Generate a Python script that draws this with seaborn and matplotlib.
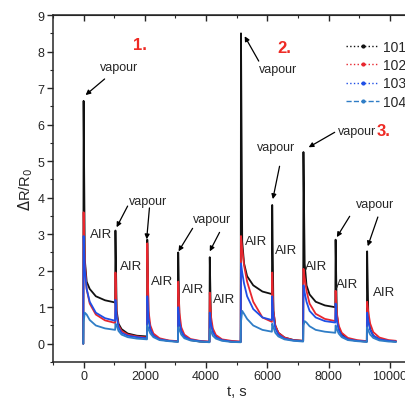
import numpy as np
import pandas as pd
import seaborn as sns
import matplotlib.pyplot as plt
from matplotlib.lines import Line2D
from matplotlib.ticker import MultipleLocator

# %%
# time, s (spike at start of each vapour pulse, then recovery in air)
t = [-10,
     0, 40, 100, 200, 400, 700, 1030,
     1040, 1080, 1140, 1240, 1440, 1740, 2070,
     2080, 2120, 2180, 2280, 2480, 2780, 3080,
     3090, 3130, 3190, 3290, 3490, 3790, 4110,
     4120, 4160, 4220, 4320, 4520, 4820, 5130,
     5140, 5180, 5240, 5340, 5540, 5840, 6150,
     6160, 6200, 6260, 6360, 6560, 6860, 7170,
     7180, 7220, 7280, 7380, 7580, 7880, 8220,
     8230, 8270, 8330, 8430, 8630, 8930, 9250,
     9260, 9300, 9360, 9460, 9660, 9960, 10200]

s101 = [0,
        6.65, 2.3, 1.7, 1.5, 1.3, 1.19, 1.13,
        3.1, 0.9, 0.55, 0.4, 0.28, 0.22, 0.2,
        2.85, 0.7, 0.4, 0.22, 0.12, 0.08, 0.06,
        2.5, 0.6, 0.35, 0.2, 0.1, 0.06, 0.05,
        2.37, 0.6, 0.35, 0.2, 0.1, 0.06, 0.05,
        8.5, 2.8, 2.2, 1.85, 1.6, 1.43, 1.36,
        3.8, 0.9, 0.5, 0.3, 0.17, 0.1, 0.08,
        5.25, 2.2, 1.6, 1.35, 1.15, 1.05, 1.0,
        2.85, 0.8, 0.45, 0.25, 0.13, 0.08, 0.06,
        2.53, 0.7, 0.4, 0.22, 0.12, 0.08, 0.06]

s102 = [0,
        3.6, 2.2, 1.5, 1.1, 0.8, 0.64, 0.57,
        1.95, 0.8, 0.5, 0.35, 0.25, 0.2, 0.17,
        2.75, 0.9, 0.5, 0.28, 0.15, 0.09, 0.07,
        1.7, 0.85, 0.45, 0.25, 0.13, 0.08, 0.06,
        1.4, 0.75, 0.42, 0.24, 0.12, 0.08, 0.06,
        2.95, 2.6, 2.15, 1.7, 1.15, 0.72, 0.6,
        1.95, 0.9, 0.5, 0.3, 0.17, 0.1, 0.08,
        2.05, 1.8, 1.45, 1.1, 0.82, 0.68, 0.62,
        1.45, 0.85, 0.5, 0.3, 0.16, 0.1, 0.07,
        1.15, 0.85, 0.55, 0.32, 0.17, 0.1, 0.08]

s103 = [0,
        2.95, 2.0, 1.5, 1.15, 0.85, 0.7, 0.63,
        1.2, 0.75, 0.45, 0.3, 0.22, 0.18, 0.15,
        1.3, 0.7, 0.4, 0.22, 0.12, 0.08, 0.06,
        1.0, 0.6, 0.35, 0.2, 0.11, 0.07, 0.05,
        0.85, 0.55, 0.32, 0.18, 0.1, 0.06, 0.05,
        2.2, 1.95, 1.65, 1.3, 0.95, 0.72, 0.65,
        1.3, 0.75, 0.42, 0.25, 0.14, 0.09, 0.07,
        1.6, 1.4, 1.15, 0.9, 0.72, 0.62, 0.58,
        1.1, 0.65, 0.38, 0.22, 0.12, 0.08, 0.06,
        0.85, 0.6, 0.38, 0.22, 0.12, 0.08, 0.06]

s104 = [0,
        0.6, 0.85, 0.8, 0.65, 0.5, 0.42, 0.38,
        0.55, 0.5, 0.35, 0.25, 0.18, 0.14, 0.12,
        0.5, 0.4, 0.28, 0.18, 0.1, 0.07, 0.05,
        0.45, 0.38, 0.25, 0.15, 0.09, 0.06, 0.04,
        0.4, 0.34, 0.22, 0.14, 0.08, 0.05, 0.04,
        0.6, 0.9, 0.82, 0.68, 0.5, 0.38, 0.33,
        0.55, 0.45, 0.3, 0.2, 0.12, 0.08, 0.06,
        0.5, 0.62, 0.58, 0.48, 0.38, 0.33, 0.3,
        0.5, 0.4, 0.28, 0.18, 0.1, 0.07, 0.05,
        0.45, 0.36, 0.25, 0.16, 0.09, 0.06, 0.05]

samples = ['101', '102', '103', '104']
colors = ['#111111', '#e8262e', '#1f4fe6', '#2f7dc6']
legend_styles = [':', ':', ':', '--']

# annotation text: (t, y)
air_labels = [(580, 3.0), (1560, 2.13), (2570, 1.72), (3590, 1.5), (4600, 1.22),
              (5630, 2.8), (6600, 2.58), (7600, 2.12), (8610, 1.63), (9800, 1.41)]
vapour_labels = [(1165, 7.57), (2090, 3.9), (4180, 3.41), (6340, 7.52),
                 (6300, 5.38), (8920, 5.82), (9510, 3.82)]
# arrows: (start t, start y, tip t, tip y)
vapour_arrows = [(686, 7.25, 65, 6.81),
                 (1438, 3.77, 1078, 3.19),
                 (2150, 3.72, 2060, 2.86),
                 (3560, 3.16, 3100, 2.53),
                 (4440, 3.05, 4120, 2.53),
                 (5720, 7.74, 5260, 8.42),
                 (6400, 4.86, 6180, 3.96),
                 (8200, 5.79, 7350, 5.38),
                 (8690, 3.49, 8270, 2.92),
                 (9610, 3.47, 9280, 2.67)]
run_labels = [('1.', 1830, 8.2), ('2.', 6570, 8.1), ('3.', 9800, 5.85)]

# %%
df = pd.concat([pd.DataFrame({'t': t, 'dR': v, 'sample': name})
                for name, v in zip(samples, [s101, s102, s103, s104])])

sns.set_style('ticks')
plt.rcParams['font.family'] = ['Liberation Sans', 'DejaVu Sans']

fig = plt.figure(figsize=(4.06, 4.02), dpi=100)
ax = fig.add_axes([0.1305, 0.097, 0.905, 0.863])

sns.lineplot(data=df, x='t', y='dR', hue='sample', palette=colors,
             estimator=None, sort=False, legend=False, lw=1.3, ax=ax)

ax.set_xlim(-1000, 11000)
ax.set_ylim(-0.5, 9)
ax.xaxis.set_major_locator(MultipleLocator(2000))
ax.xaxis.set_minor_locator(MultipleLocator(1000))
ax.yaxis.set_major_locator(MultipleLocator(1))
ax.yaxis.set_minor_locator(MultipleLocator(0.5))
ax.tick_params(which='major', direction='out', length=4, width=1, labelsize=9, pad=2)
ax.tick_params(which='minor', direction='out', length=2.5, width=0.8)
for sp in ax.spines.values():
    sp.set_linewidth(1.1)

top = ax.secondary_xaxis('top')
top.xaxis.set_major_locator(MultipleLocator(2000))
top.xaxis.set_minor_locator(MultipleLocator(1000))
top.tick_params(which='major', direction='in', length=4, width=1, labeltop=False)
top.tick_params(which='minor', direction='in', length=2.5, width=0.8)

ax.set_xlabel('t, s', fontsize=10.5, labelpad=1.5)
ax.set_ylabel(r'$\Delta$R/R$_0$', fontsize=10.5, labelpad=2)

for x, y in air_labels:
    ax.text(x, y, 'AIR', fontsize=9.5, ha='center', va='center')
for x, y in vapour_labels:
    ax.text(x, y, 'vapour', fontsize=9, ha='center', va='center')
for x0, y0, x1, y1 in vapour_arrows:
    ax.annotate('', xy=(x1, y1), xytext=(x0, y0),
                arrowprops=dict(arrowstyle='-|>', color='black', lw=0.9,
                                mutation_scale=7, shrinkA=0, shrinkB=0))
for txt, x, y in run_labels:
    ax.text(x, y, txt, fontsize=12, color='#ee2a24', fontweight='bold',
            ha='center', va='center')

handles = [Line2D([0], [0], color=c, ls=ls, lw=1, marker='.', markersize=4)
           for c, ls in zip(colors, legend_styles)]
fig.legend(handles, samples, loc='upper left', bbox_to_anchor=(0.835, 0.915),
           frameon=False, fontsize=10, handlelength=2.4, handletextpad=0.3,
           labelspacing=0.3, borderpad=0, numpoints=1)

fig.savefig('out.png', dpi=100)
